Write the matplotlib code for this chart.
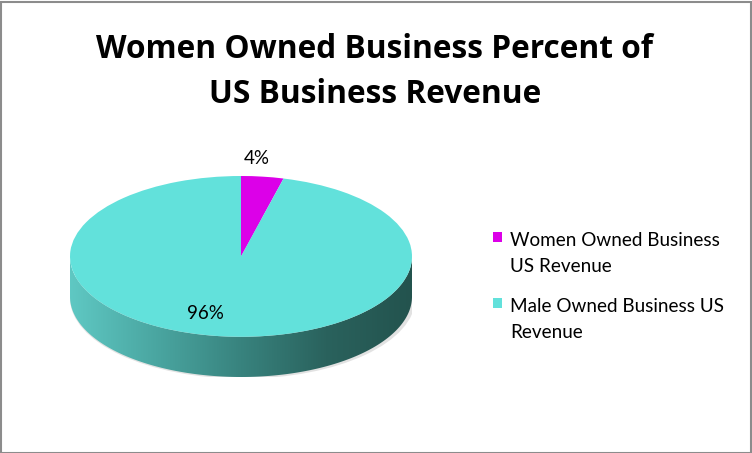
import numpy as np
import matplotlib
matplotlib.use("Agg")
import matplotlib.pyplot as plt
from matplotlib.patches import Polygon, Rectangle, Ellipse
from matplotlib.colors import LinearSegmentedColormap

# data
labels = ["Women Owned Business\nUS Revenue", "Male Owned Business US\nRevenue"]
values = [4, 96]
colors = ["#dc00e8", "#62e1db"]
title = "Women Owned Business Percent of\nUS Business Revenue"

W, H = 752, 453
DEPTH = 0.5  # side height relative to the ellipse's vertical radius

plt.rcParams["font.family"] = ["Lato", "DejaVu Sans"]

fig = plt.figure(figsize=(W / 100, H / 100), dpi=100)
fig.patches.append(Rectangle((0.5 / W, 0.5 / H), 1 - 2 / W, 1 - 2 / H,
                             transform=fig.transFigure, fill=False,
                             edgecolor="#8c8c8c", linewidth=1.5))

# title, one baseline per line
for line, base in zip(title.split("\n"), [58, 103]):
    fig.text(375 / W, 1 - base / H, line, ha="center", va="baseline",
             fontsize=22.8, fontweight="bold", family=["Open Sans", "DejaVu Sans"])

# axes box spans the top ellipse plus the extruded side
left, right, top, bottom = 70, 412, 176, 377
ax = fig.add_axes([left / W, 1 - bottom / H, (right - left) / W, (bottom - top) / H])

# shadow under the side
ax.add_patch(Ellipse((0.01, -DEPTH - 0.02), 2.02, 2.0, facecolor="#d0d0d0",
                     edgecolor="none", alpha=0.6, zorder=0))

# side face
t = np.linspace(np.pi, 2 * np.pi, 200)
upper = np.column_stack([np.cos(t), np.sin(t)])
lower = np.column_stack([np.cos(t[::-1]), np.sin(t[::-1]) - DEPTH])
side = Polygon(np.vstack([upper, lower]), closed=True, facecolor="none",
               edgecolor="none", zorder=1)
ax.add_patch(side)
side_cmap = LinearSegmentedColormap.from_list(
    "side", ["#5fc8c3", "#4aa6a1", "#38837e", "#2a625d", "#23534e"])
grad = np.linspace(0, 1, 256).reshape(1, -1)
im = ax.imshow(grad, cmap=side_cmap, extent=(-1, 1, -1 - DEPTH, 0),
               aspect="auto", zorder=1)
im.set_clip_path(side)

wedges, texts = ax.pie(values, colors=colors, startangle=90,
                       counterclock=False, radius=1, center=(0, 0),
                       wedgeprops=dict(linewidth=0))
for w in wedges:
    w.set_zorder(2)
ax.set_aspect("auto")
ax.set_xlim(-1, 1)
ax.set_ylim(-1 - DEPTH, 1)
ax.set_axis_off()

# percentage labels
pct = [f"{v / sum(values):.0%}" for v in values]
ax.text(0.095, 1.22, pct[0], ha="center", va="center", fontsize=13.5, zorder=3)
ax.text(-0.21, -0.71, pct[1], ha="center", va="center", fontsize=13.5, zorder=3)

# legend: square aligned with first line of each label, like Excel
entry_top = [232, 298]
for label, color, y0 in zip(labels, colors, entry_top):
    fig.patches.append(Rectangle((493 / W, 1 - (y0 + 10) / H), 9 / W, 10 / H,
                                 transform=fig.transFigure, facecolor=color,
                                 edgecolor="none"))
    for k, line in enumerate(label.split("\n")):
        fig.text(510 / W, 1 - (y0 + 14 + 26 * k) / H, line, ha="left",
                 va="baseline", fontsize=13.6)

fig.savefig("out.png", dpi=100)
